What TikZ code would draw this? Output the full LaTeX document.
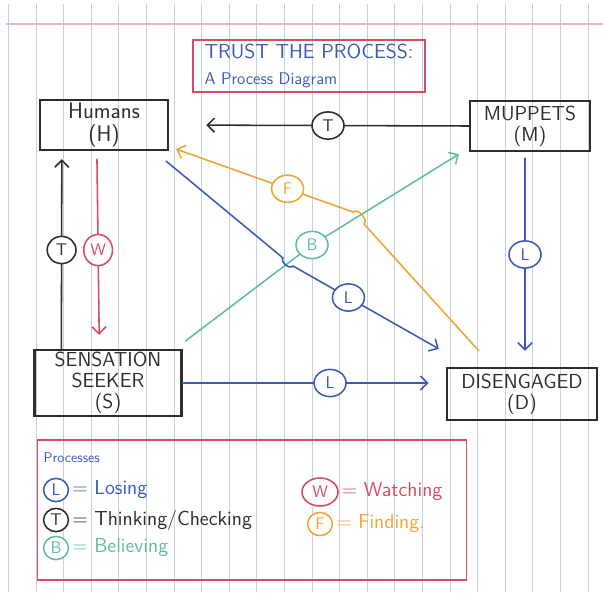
\documentclass[tikz,border=0pt]{standalone}
\usepackage{tikz}
\usetikzlibrary{arrows.meta, positioning, calc, shapes.geometric}
\definecolor{InkBlack}{RGB}{45,45,45}
\definecolor{PenBlue}{RGB}{60,90,185}
\definecolor{PenRed}{RGB}{215,75,100}
\definecolor{PenOrange}{RGB}{240,165,50}
\definecolor{PenGreen}{RGB}{95,190,160}
\definecolor{PaperLine}{RGB}{190,212,222}
\definecolor{PaperPink}{RGB}{235,185,195}

\tikzset{
    box/.style={draw=InkBlack, line width=1.6pt, align=center, text=InkBlack, font=\sffamily\fontsize{14.4}{15}\selectfont, inner sep=0pt},
    pen/.style={line width=1.1pt, line cap=round},
    tip/.style={-{Straight Barb[length=5pt, width=10pt]}},
    tag/.style={ellipse, draw=#1, text=#1, fill=white, line width=1.1pt, minimum width=0.8cm, minimum height=0.68cm, inner sep=0pt, font=\sffamily\large},
    keytag/.style={tag=#1, minimum width=0.62cm, minimum height=0.58cm},
    keytext/.style={text=#1, font=\sffamily\Large, inner sep=1pt}
}

\begin{document}
\begin{tikzpicture}[x=0.025cm, y=-0.025cm]
    % Paper
    \useasboundingbox (0,0) rectangle (603,592);
    \fill[white] (0,0) rectangle (603,592);
    \foreach \k in {0,...,21}
        \draw[PaperLine, line width=0.6pt] ({8.5+27.6*\k},4) -- ({8.5+27.6*\k},592);
    \draw[PaperPink, line width=0.9pt] (6,24) -- (603,24);

    % Title
    \node[draw=PenRed, line width=1.2pt, text=PenBlue, font=\sffamily\Large, align=left, minimum width=5.8cm, minimum height=1.2cm] (title) at (309,66) {TRUST THE PROCESS:\\{\large A Process Diagram}};

    % States
    \node[box, font=\sffamily\fontsize{16}{17}\selectfont, minimum width=3.2cm, minimum height=1.25cm] (H) at (104,125) {Humans\\(H)};
    \node[box, minimum width=3cm, minimum height=1.25cm] (M) at (530,126) {MUPPETS\\(M)};
    \node[box, minimum width=3.675cm, minimum height=1.65cm] (S) at (108,383) {SENSATION\\SEEKER\\(S)};
    \node[box, minimum width=3.75cm, minimum height=1.3cm] (D) at (522,394) {DISENGAGED\\(D)};

    % Processes
    \draw[pen, PenGreen, tip] ($(S.north east)+(3,-8)$) -- (312,245) node[tag=PenGreen] (tB) {B} -- ($(M.south west)+(-10,2)$);
    \draw[pen, InkBlack, tip, shorten >=0.93cm] (M.west) -- node[tag=InkBlack, pos=0.47] (tT1) {T} (H.east);
    \draw[pen, InkBlack, tip, shorten >=0.2cm] ($(S.north west)+(28,0)$) -- node[tag=InkBlack, minimum width=0.72cm] (tT2) {T} ($(H.south west)+(23,0)$);
    \draw[pen, PenRed, tip, shorten <=0.2cm, shorten >=0.35cm] ($(H.south west)+(58,0)$) -- node[tag=PenRed, minimum width=0.72cm, minimum height=0.78cm] (tW) {W} ($(S.north west)+(66,0)$);
    \draw[pen, PenBlue, tip] ($(H.south east)+(-3,10)$) -- (283,258) to[bend right=90] (293,266) -- node[tag=PenBlue, pos=0.38] (tL1) {L} ($(D.north west)+(-7,-18)$);
    \draw[pen, PenOrange, tip] ($(D.north west)+(33,-16)$) -- (364,224) to[bend right=90] (353,212) -- node[tag=PenOrange, pos=0.37] (tF) {F} ($(H.south east)+(7,-2)$);
    \draw[pen, PenBlue, tip] ($(M.south)+(-5,6)$) -- node[tag=PenBlue] (tL2) {L} ($(D.north)+(3,-16)$);
    \draw[pen, PenBlue, tip, shorten >=0.43cm] (S.east) -- node[tag=PenBlue, pos=0.56] (tL3) {L} (S.east -| D.west);

    % Key
    \node[draw=PenRed, line width=1.2pt, minimum width=10.725cm, minimum height=3.5cm] (key) at (252,510) {};
    \node[keytext=PenBlue, font=\sffamily, anchor=west] (keyhead) at (42,458) {Processes};
    \node[keytag=PenBlue] (kL) at (56,490) {L};
    \node[keytext=PenBlue, right=1pt of kL] (kLtext) {= Losing};
    \node[keytag=InkBlack] (kT) at (56,520) {T};
    \node[keytext=InkBlack, right=1pt of kT] (kTtext) {= Thinking/Checking};
    \node[keytag=PenGreen] (kB) at (56,548) {B};
    \node[keytext=PenGreen, right=1pt of kB] (kBtext) {= Believing};
    \node[keytag=PenRed, minimum width=0.9cm, minimum height=0.7cm] (kW) at (320,492) {W};
    \node[keytext=PenRed, right=1pt of kW] (kWtext) {= Watching};
    \node[keytag=PenOrange] (kF) at (320,524) {F};
    \node[keytext=PenOrange, right=1pt of kF] (kFtext) {= Finding.};
\end{tikzpicture}
\end{document}
